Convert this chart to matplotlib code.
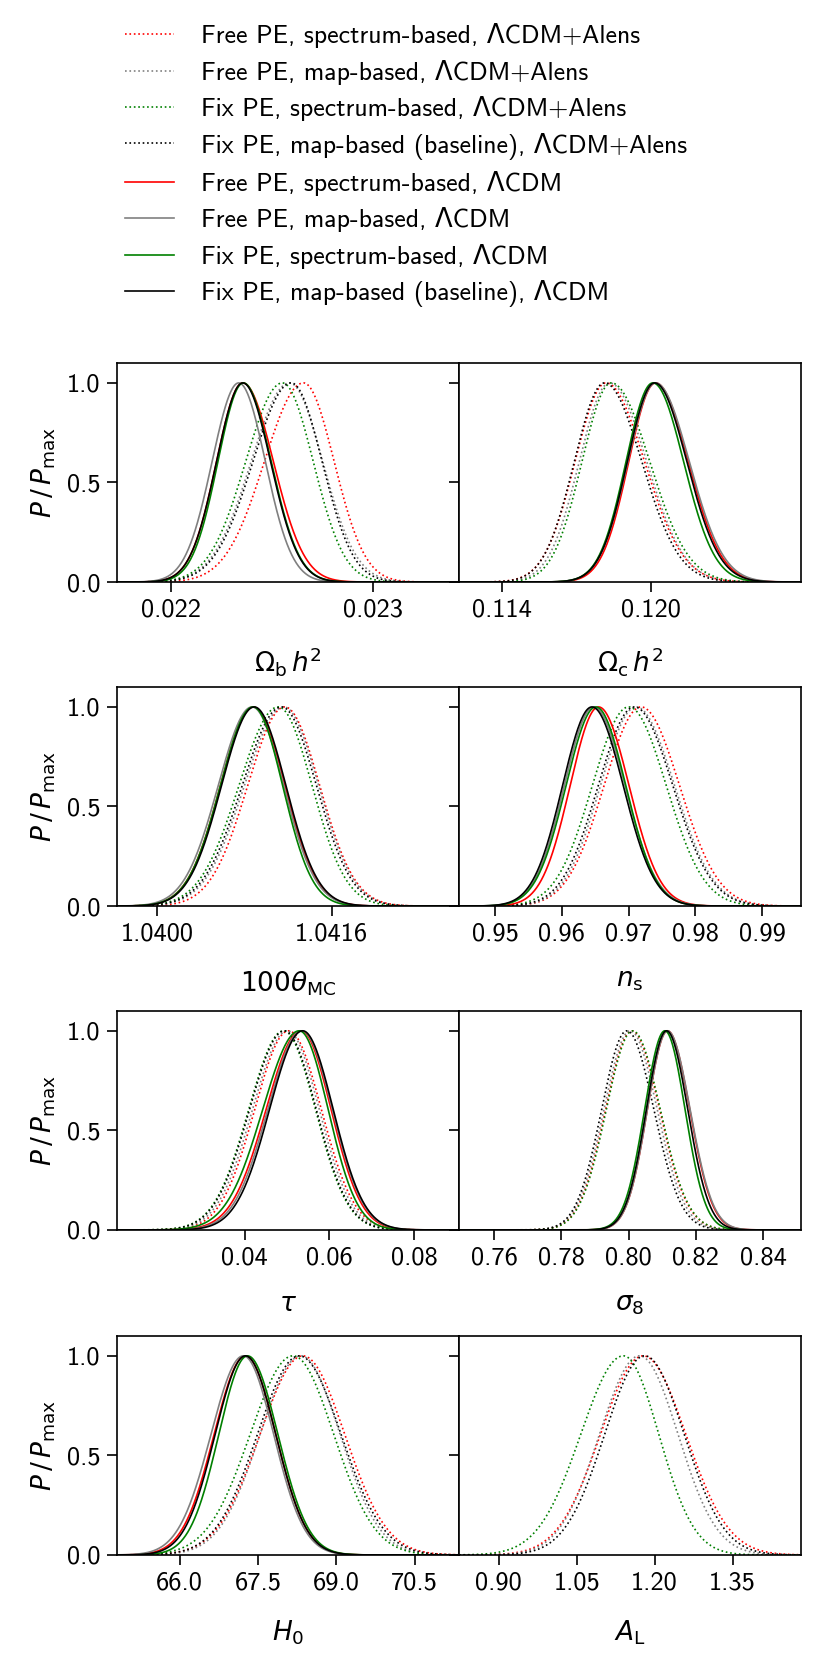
import numpy as np
import matplotlib
matplotlib.use("Agg")
import matplotlib.pyplot as plt

plt.rcParams['font.family'] = ['cmss10', 'DejaVu Sans']
plt.rcParams['mathtext.fontset'] = 'dejavusans'
plt.rcParams['axes.unicode_minus'] = False
plt.rcParams['axes.formatter.use_mathtext'] = True

# Series (legend order)
series_labels = [
    "Free PE, spectrum-based, ΛCDM+Alens",
    "Free PE, map-based, ΛCDM+Alens",
    "Fix PE, spectrum-based, ΛCDM+Alens",
    "Fix PE, map-based (baseline), ΛCDM+Alens",
    "Free PE, spectrum-based, ΛCDM",
    "Free PE, map-based, ΛCDM",
    "Fix PE, spectrum-based, ΛCDM",
    "Fix PE, map-based (baseline), ΛCDM",
]
series_colors = ["red", "grey", "green", "black", "red", "grey", "green", "black"]
series_styles = [":", ":", ":", ":", "-", "-", "-", "-"]

# Parameters
param_labels = [r"$\Omega_{\rm b}\,h^2$", r"$\Omega_{\rm c}\,h^2$", r"$100\theta_{\rm MC}$",
                r"$n_{\rm s}$", r"$\tau$", r"$\sigma_8$", r"$H_0$", r"$A_{\rm L}$"]
param_xlims = [(0.02173, 0.02343), (0.11226, 0.12608), (1.03963, 1.04277), (0.94459, 0.99586),
               (0.0099, 0.0906), (0.74955, 0.85134), (64.80, 71.35), (0.8237, 1.4819)]
param_ticks = [[0.022, 0.023], [0.114, 0.120], [1.0400, 1.0416], [0.95, 0.96, 0.97, 0.98, 0.99],
               [0.04, 0.06, 0.08], [0.76, 0.78, 0.80, 0.82, 0.84], [66.0, 67.5, 69.0, 70.5],
               [0.90, 1.05, 1.20, 1.35]]
param_ticklabels = [["0.022", "0.023"], ["0.114", "0.120"], ["1.0400", "1.0416"],
                    ["0.95", "0.96", "0.97", "0.98", "0.99"], ["0.04", "0.06", "0.08"],
                    ["0.76", "0.78", "0.80", "0.82", "0.84"], ["66.0", "67.5", "69.0", "70.5"],
                    ["0.90", "1.05", "1.20", "1.35"]]

# Posterior peak and left / right widths, one value per series (legend order)
ombh2_mode = [0.022657, 0.022587, 0.022552, 0.022596, 0.022355, 0.022335, 0.022358, 0.022355]
ombh2_lo = [0.000194, 0.000190, 0.000182, 0.000190, 0.000130, 0.000132, 0.000126, 0.000130]
ombh2_hi = [0.000152, 0.000165, 0.000153, 0.000153, 0.000152, 0.000132, 0.000138, 0.000138]

omch2_mode = [0.11820, 0.11834, 0.11841, 0.11814, 0.12020, 0.12020, 0.12009, 0.12016]
omch2_lo = [0.00125, 0.00122, 0.00118, 0.00122, 0.00108, 0.00112, 0.00108, 0.00110]
omch2_hi = [0.00155, 0.00150, 0.00155, 0.00150, 0.00132, 0.00136, 0.00124, 0.00130]

theta_mode = [1.04117, 1.04116, 1.04111, 1.04114, 1.04088, 1.04087, 1.04088, 1.04089]
theta_lo = [0.00034, 0.00036, 0.00036, 0.00036, 0.00030, 0.00031, 0.00030, 0.00030]
theta_hi = [0.00032, 0.00032, 0.00031, 0.00032, 0.00029, 0.00029, 0.00027, 0.00029]

ns_mode = [0.97188, 0.97113, 0.97002, 0.97087, 0.96550, 0.96478, 0.96511, 0.96451]
ns_lo = [0.00554, 0.00533, 0.00544, 0.00540, 0.00425, 0.00440, 0.00447, 0.00439]
ns_hi = [0.00575, 0.00575, 0.00562, 0.00575, 0.00456, 0.00468, 0.00447, 0.00468]

tau_mode = [0.0504, 0.0501, 0.0492, 0.0494, 0.0533, 0.0535, 0.0529, 0.0537]
tau_lo = [0.0080, 0.0082, 0.0082, 0.0082, 0.0082, 0.0080, 0.0086, 0.0078]
tau_hi = [0.0077, 0.0075, 0.0075, 0.0075, 0.0071, 0.0072, 0.0068, 0.0072]

sig8_mode = [0.8010, 0.8005, 0.8012, 0.7995, 0.8116, 0.8116, 0.8108, 0.8113]
sig8_lo = [0.0078, 0.0078, 0.0078, 0.0075, 0.0060, 0.0060, 0.0060, 0.0060]
sig8_hi = [0.0082, 0.0080, 0.0082, 0.0080, 0.0066, 0.0067, 0.0060, 0.0063]

H0_mode = [68.36, 68.32, 68.17, 68.29, 67.26, 67.22, 67.30, 67.26]
H0_lo = [0.82, 0.78, 0.82, 0.80, 0.60, 0.62, 0.55, 0.58]
H0_hi = [0.80, 0.75, 0.78, 0.80, 0.58, 0.58, 0.58, 0.58]

AL_mode = [1.178, 1.171, 1.140, 1.181, np.nan, np.nan, np.nan, np.nan]
AL_lo = [0.082, 0.077, 0.082, 0.077, np.nan, np.nan, np.nan, np.nan]
AL_hi = [0.082, 0.074, 0.068, 0.076, np.nan, np.nan, np.nan, np.nan]

modes = [ombh2_mode, omch2_mode, theta_mode, ns_mode, tau_mode, sig8_mode, H0_mode, AL_mode]
lows = [ombh2_lo, omch2_lo, theta_lo, ns_lo, tau_lo, sig8_lo, H0_lo, AL_lo]
highs = [ombh2_hi, omch2_hi, theta_hi, ns_hi, tau_hi, sig8_hi, H0_hi, AL_hi]


def posterior(x, m, slo, shi):
    s = np.where(x < m, slo, shi)
    return np.exp(-0.5 * ((x - m) / s) ** 2)


fig = plt.figure(figsize=(8.31, 16.72), dpi=100)

left = [0.1408, 0.5524]
width = 0.4116
bottoms = [0.6519, 0.4581, 0.2644, 0.0700]
height = 0.1310
fs = 19

handles = []
for p in range(8):
    row, col = p // 2, p % 2
    ax = fig.add_axes([left[col], bottoms[row], width, height])
    x = np.linspace(param_xlims[p][0], param_xlims[p][1], 600)
    for s in range(8):
        m = modes[p][s]
        if np.isnan(m):
            continue
        y = posterior(x, m, lows[p][s], highs[p][s])
        line, = ax.plot(x, y, color=series_colors[s], ls=series_styles[s], lw=1.2)
        if p == 0:
            handles.append(line)
    ax.set_xlim(param_xlims[p])
    ax.set_ylim(0, 1.1)
    ax.set_xticks(param_ticks[p])
    ax.set_xticklabels(param_ticklabels[p])
    ax.set_yticks([0, 0.5, 1.0])
    if col == 0:
        ax.set_yticklabels(["0.0", "0.5", "1.0"])
        ax.set_ylabel(r"$P\,/\,P_{\rm max}$", fontsize=fs, labelpad=6)
    else:
        ax.set_yticklabels([])
    ax.set_xlabel(param_labels[p], fontsize=fs, labelpad=17)
    ax.tick_params(direction="out", length=7, width=1.2, labelsize=fs, pad=5)
    for sp in ax.spines.values():
        sp.set_linewidth(1.2)

fig.legend(handles, series_labels, loc="upper left", bbox_to_anchor=(0.150, 0.986),
           frameon=False, fontsize=18.6, handlelength=1.9, handletextpad=1.05,
           labelspacing=0.44, borderpad=0, borderaxespad=0)

fig.savefig("out.png", dpi=100)
